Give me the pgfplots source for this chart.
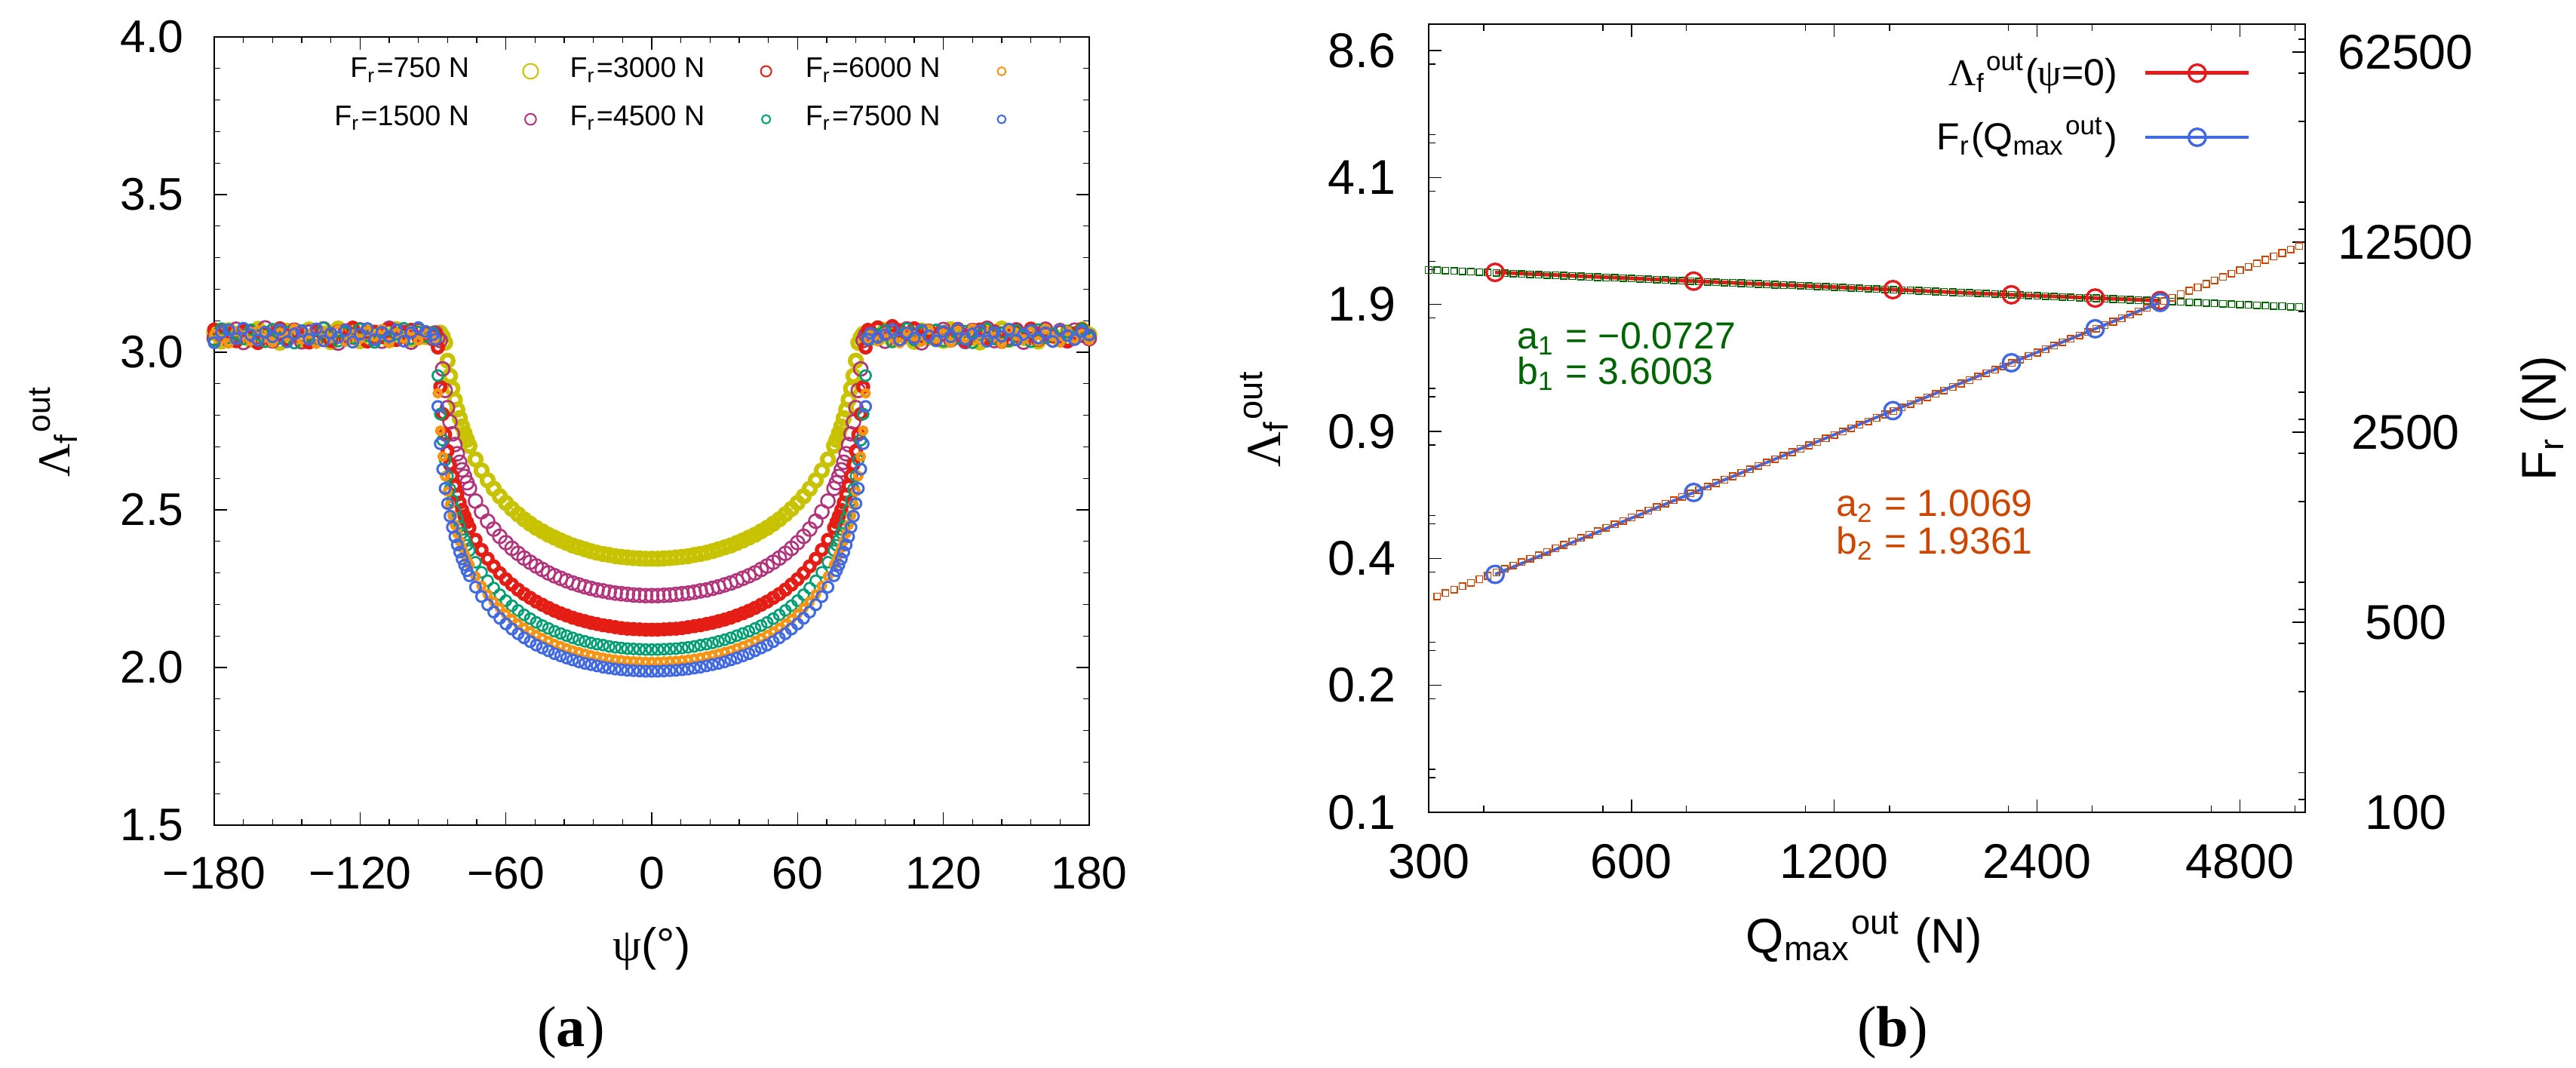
\documentclass[border=0pt]{standalone}
\usepackage{fontspec}
\setmainfont{Liberation Sans}
\newfontfamily\symf{Liberation Serif}
\usepackage{amsmath}
\usepackage{pgfplots}
\usepackage{pgfplotstable}
\pgfplotsset{compat=1.18}

\definecolor{cY}{RGB}{200,195,0}
\definecolor{cP}{RGB}{178,52,122}
\definecolor{cR}{RGB}{228,30,20}
\definecolor{cG}{RGB}{0,158,115}
\definecolor{cO}{RGB}{247,148,20}
\definecolor{cB}{RGB}{65,105,225}
\definecolor{fitG}{RGB}{0,100,0}
\definecolor{fitO}{RGB}{204,70,0}
\definecolor{lR}{RGB}{228,26,28}

\pgfplotstableread{
psi Y P R G O B
-180 3.061 3.044 3.072 3.037 3.057 3.030
-177 3.034 3.066 3.049 3.075 3.041 3.063
-174 3.070 3.039 3.058 3.046 3.028 3.071
-171 3.047 3.073 3.035 3.060 3.066 3.043
-168 3.058 3.031 3.068 3.042 3.053 3.076
-165 3.039 3.062 3.045 3.071 3.036 3.055
-162 3.074 3.050 3.029 3.056 3.069 3.038
-159 3.043 3.077 3.061 3.033 3.047 3.064
-156 3.065 3.036 3.052 3.073 3.031 3.049
-153 3.030 3.059 3.076 3.044 3.062 3.072
-150 3.068 3.045 3.038 3.064 3.050 3.033
-147 3.051 3.070 3.063 3.029 3.075 3.058
-144 3.037 3.033 3.047 3.069 3.040 3.067
-141 3.072 3.064 3.031 3.052 3.058 3.041
-138 3.046 3.041 3.070 3.038 3.027 3.074
-135 3.060 3.074 3.054 3.077 3.063 3.036
-132 3.032 3.052 3.036 3.048 3.045 3.060
-129 3.075 3.029 3.066 3.035 3.071 3.047
-126 3.049 3.067 3.043 3.062 3.034 3.069
-123 3.063 3.048 3.078 3.045 3.056 3.032
-120 3.035 3.071 3.050 3.074 3.042 3.057
-117 3.069 3.038 3.034 3.053 3.067 3.075
-114 3.044 3.060 3.065 3.031 3.049 3.040
-111 3.057 3.035 3.048 3.068 3.073 3.063
-108 3.038 3.076 3.073 3.040 3.030 3.050
-105 3.073 3.047 3.039 3.058 3.061 3.071
-102 3.052 3.063 3.059 3.076 3.044 3.035
-99 3.041 3.032 3.071 3.043 3.068 3.062
-96 3.066 3.069 3.046 3.064 3.037 3.078
-93 3.048 3.055 3.062 3.050 3.059 3.066
-90 3.059 3.043 3.051 3.061 3.048 3.056
-89 3.048 3.061 3.057 3.044 3.040 3.041
-88 3.055 3.046 3.015 2.926 2.870 2.828
-87 3.062 3.037 2.890 2.804 2.751 2.710
-86 3.050 2.947 2.804 2.721 2.669 2.629
-85 3.030 2.879 2.739 2.658 2.607 2.568
-84 2.973 2.824 2.687 2.607 2.558 2.520
-83 2.925 2.779 2.644 2.566 2.517 2.480
-82 2.885 2.741 2.608 2.530 2.482 2.445
-81 2.849 2.707 2.576 2.499 2.452 2.415
-80 2.818 2.678 2.548 2.472 2.425 2.389
-79 2.791 2.651 2.523 2.448 2.401 2.366
-78 2.765 2.627 2.500 2.426 2.380 2.344
-77 2.743 2.606 2.480 2.406 2.360 2.325
-76 2.722 2.586 2.461 2.388 2.342 2.307
-75 2.703 2.568 2.443 2.371 2.326 2.291
-72.5 2.660 2.528 2.405 2.334 2.289 2.255
-70 2.625 2.494 2.373 2.302 2.259 2.225
-67.5 2.594 2.464 2.345 2.275 2.232 2.199
-65 2.567 2.439 2.321 2.252 2.209 2.176
-62.5 2.543 2.416 2.299 2.231 2.189 2.156
-60 2.522 2.396 2.280 2.212 2.170 2.138
-57.5 2.503 2.378 2.263 2.196 2.154 2.122
-55 2.486 2.362 2.247 2.181 2.139 2.107
-52.5 2.470 2.347 2.233 2.167 2.126 2.094
-50 2.456 2.334 2.221 2.155 2.114 2.082
-47.5 2.443 2.322 2.209 2.143 2.103 2.071
-45 2.432 2.311 2.199 2.133 2.093 2.062
-42.5 2.421 2.300 2.189 2.124 2.084 2.053
-40 2.412 2.291 2.180 2.115 2.075 2.044
-37.5 2.403 2.283 2.172 2.108 2.068 2.037
-35 2.395 2.275 2.165 2.101 2.061 2.030
-32.5 2.387 2.268 2.158 2.094 2.054 2.024
-30 2.381 2.262 2.152 2.088 2.049 2.018
-27.5 2.375 2.256 2.147 2.083 2.044 2.013
-25 2.369 2.251 2.142 2.078 2.039 2.009
-22.5 2.364 2.246 2.138 2.074 2.035 2.005
-20 2.360 2.243 2.134 2.071 2.031 2.001
-17.5 2.357 2.239 2.131 2.067 2.028 1.998
-15 2.353 2.236 2.128 2.064 2.025 1.995
-12.5 2.351 2.234 2.125 2.062 2.023 1.993
-10 2.349 2.232 2.123 2.060 2.021 1.991
-7.5 2.347 2.230 2.122 2.059 2.020 1.990
-5 2.346 2.229 2.121 2.058 2.019 1.989
-2.5 2.345 2.228 2.120 2.057 2.018 1.988
0 2.345 2.228 2.120 2.057 2.018 1.988
2.5 2.345 2.228 2.120 2.057 2.018 1.988
5 2.346 2.229 2.121 2.058 2.019 1.989
7.5 2.347 2.230 2.122 2.059 2.020 1.990
10 2.349 2.232 2.123 2.060 2.021 1.991
12.5 2.351 2.234 2.125 2.062 2.023 1.993
15 2.353 2.236 2.128 2.064 2.025 1.995
17.5 2.357 2.239 2.131 2.067 2.028 1.998
20 2.360 2.243 2.134 2.071 2.031 2.001
22.5 2.364 2.246 2.138 2.074 2.035 2.005
25 2.369 2.251 2.142 2.078 2.039 2.009
27.5 2.375 2.256 2.147 2.083 2.044 2.013
30 2.381 2.262 2.152 2.088 2.049 2.018
32.5 2.387 2.268 2.158 2.094 2.054 2.024
35 2.395 2.275 2.165 2.101 2.061 2.030
37.5 2.403 2.283 2.172 2.108 2.068 2.037
40 2.412 2.291 2.180 2.115 2.075 2.044
42.5 2.421 2.300 2.189 2.124 2.084 2.053
45 2.432 2.311 2.199 2.133 2.093 2.062
47.5 2.443 2.322 2.209 2.143 2.103 2.071
50 2.456 2.334 2.221 2.155 2.114 2.082
52.5 2.470 2.347 2.233 2.167 2.126 2.094
55 2.486 2.362 2.247 2.181 2.139 2.107
57.5 2.503 2.378 2.263 2.196 2.154 2.122
60 2.522 2.396 2.280 2.212 2.170 2.138
62.5 2.543 2.416 2.299 2.231 2.189 2.156
65 2.567 2.439 2.321 2.252 2.209 2.176
67.5 2.594 2.464 2.345 2.275 2.232 2.199
70 2.625 2.494 2.373 2.302 2.259 2.225
72.5 2.660 2.528 2.405 2.334 2.289 2.255
75 2.703 2.568 2.443 2.371 2.326 2.291
76 2.722 2.586 2.461 2.388 2.342 2.307
77 2.743 2.606 2.480 2.406 2.360 2.325
78 2.765 2.627 2.500 2.426 2.380 2.344
79 2.791 2.651 2.523 2.448 2.401 2.366
80 2.818 2.678 2.548 2.472 2.425 2.389
81 2.849 2.707 2.576 2.499 2.452 2.415
82 2.885 2.741 2.608 2.530 2.482 2.445
83 2.925 2.779 2.644 2.566 2.517 2.480
84 2.973 2.824 2.687 2.607 2.558 2.520
85 3.030 2.879 2.739 2.658 2.607 2.568
86 3.047 2.947 2.804 2.721 2.669 2.629
87 3.058 3.037 2.890 2.804 2.751 2.710
88 3.044 3.055 3.015 2.926 2.870 2.828
89 3.052 3.058 3.071 3.049 3.040 3.041
90 3.057 3.049 3.066 3.041 3.054 3.060
93 3.044 3.068 3.079 3.057 3.036 3.047
96 3.071 3.035 3.061 3.069 3.062 3.055
99 3.038 3.060 3.083 3.033 3.047 3.072
102 3.064 3.042 3.070 3.052 3.029 3.039
105 3.050 3.074 3.058 3.075 3.066 3.061
108 3.033 3.053 3.076 3.039 3.051 3.044
111 3.069 3.030 3.046 3.063 3.034 3.070
114 3.046 3.066 3.068 3.047 3.072 3.052
117 3.059 3.047 3.040 3.071 3.043 3.036
120 3.036 3.072 3.063 3.035 3.059 3.066
123 3.073 3.039 3.052 3.058 3.031 3.049
126 3.052 3.061 3.074 3.044 3.068 3.074
129 3.041 3.034 3.037 3.067 3.046 3.041
132 3.066 3.069 3.059 3.030 3.075 3.058
135 3.031 3.051 3.072 3.055 3.038 3.068
138 3.062 3.076 3.044 3.074 3.061 3.035
141 3.048 3.037 3.066 3.042 3.049 3.063
144 3.075 3.058 3.033 3.061 3.028 3.051
147 3.039 3.045 3.057 3.036 3.070 3.073
150 3.058 3.071 3.069 3.069 3.053 3.039
153 3.045 3.032 3.048 3.050 3.041 3.057
156 3.067 3.064 3.075 3.033 3.064 3.069
159 3.034 3.050 3.039 3.072 3.035 3.045
162 3.070 3.073 3.062 3.046 3.073 3.062
165 3.053 3.040 3.050 3.059 3.050 3.034
168 3.040 3.063 3.071 3.038 3.032 3.071
171 3.063 3.036 3.036 3.066 3.067 3.053
174 3.047 3.070 3.060 3.049 3.044 3.040
177 3.072 3.054 3.073 3.073 3.058 3.066
180 3.056 3.043 3.052 3.045 3.039 3.055
}\tabA

\pgfplotstableread{
Q L F
300.0 2.3783 604.1
308.8 2.3733 621.9
317.8 2.3683 640.3
327.2 2.3634 659.2
336.7 2.3584 678.6
346.6 2.3534 698.6
356.8 2.3485 719.3
367.2 2.3436 740.5
378.0 2.3386 762.3
389.1 2.3337 784.8
400.5 2.3289 808.0
412.2 2.3240 831.8
424.3 2.3191 856.4
436.7 2.3143 881.6
449.5 2.3094 907.7
462.7 2.3046 934.4
476.2 2.2997 962.0
490.2 2.2949 990.4
504.5 2.2901 1019.6
519.3 2.2853 1049.7
534.5 2.2805 1080.7
550.2 2.2757 1112.6
566.3 2.2709 1145.4
582.9 2.2662 1179.2
600.0 2.2614 1214.0
617.6 2.2567 1249.8
635.7 2.2519 1286.7
654.3 2.2472 1324.7
673.5 2.2425 1363.8
693.2 2.2378 1404.0
713.5 2.2331 1445.4
734.4 2.2284 1488.1
756.0 2.2238 1532.0
778.1 2.2191 1577.2
800.9 2.2144 1623.7
824.4 2.2098 1671.6
848.5 2.2051 1721.0
873.4 2.2005 1771.7
899.0 2.1959 1824.0
925.3 2.1913 1877.8
952.4 2.1867 1933.3
980.3 2.1821 1990.3
1009.1 2.1776 2049.0
1038.6 2.1730 2109.5
1069.1 2.1684 2171.7
1100.4 2.1639 2235.8
1132.6 2.1593 2301.8
1165.8 2.1548 2369.7
1200.0 2.1503 2439.7
1235.2 2.1458 2511.6
1271.4 2.1413 2585.8
1308.6 2.1368 2662.1
1347.0 2.1323 2740.6
1386.4 2.1278 2821.5
1427.0 2.1234 2904.8
1468.9 2.1189 2990.5
1511.9 2.1145 3078.7
1556.2 2.1100 3169.5
1601.8 2.1056 3263.1
1648.7 2.1012 3359.4
1697.1 2.0968 3458.5
1746.8 2.0924 3560.5
1798.0 2.0880 3665.6
1850.7 2.0836 3773.8
1904.9 2.0792 3885.1
1960.7 2.0749 3999.7
2018.2 2.0705 4117.8
2077.3 2.0662 4239.3
2138.2 2.0619 4364.4
2200.8 2.0575 4493.1
2265.3 2.0532 4625.7
2331.7 2.0489 4762.2
2400.0 2.0446 4902.8
2470.3 2.0403 5047.5
2542.7 2.0360 5196.4
2617.2 2.0318 5349.7
2693.9 2.0275 5507.6
2772.8 2.0232 5670.1
2854.1 2.0190 5837.4
2937.7 2.0148 6009.7
3023.8 2.0105 6187.0
3112.4 2.0063 6369.6
3203.6 2.0021 6557.5
3297.5 1.9979 6751.0
3394.1 1.9937 6950.2
3493.6 1.9895 7155.3
3595.9 1.9854 7366.4
3701.3 1.9812 7583.8
3809.8 1.9770 7807.5
3921.4 1.9729 8037.9
4036.3 1.9688 8275.1
4154.6 1.9646 8519.3
4276.3 1.9605 8770.7
4401.6 1.9564 9029.5
4530.6 1.9523 9295.9
4663.4 1.9482 9570.2
4800.0 1.9441 9852.7
4940.6 1.9400 10143.4
5085.4 1.9360 10442.7
5234.4 1.9319 10750.8
5387.8 1.9279 11068.1
5545.7 1.9238 11394.6
5708.2 1.9198 11730.9
5875.5 1.9158 12077.0
}\tabFit

\pgfplotstableread{
Q L F
376.5 2.345 750
742 2.228 1500
1466 2.120 3000
2198 2.057 4500
2927 2.018 6000
3654 1.988 7500
}\tabPts

\begin{document}
\begin{tikzpicture}
\useasboundingbox (0,0) rectangle (512.25pt,212.25pt);

% ---------------- panel (a)
\begin{axis}[
  at={(42.6pt,48.15pt)}, anchor=south west,
  scale only axis, width=174pt, height=156.75pt,
  xmin=-180, xmax=180, ymin=1.5, ymax=4.0,
  xtick={-180,-120,-60,0,60,120,180},
  xticklabels={−180,−120,−60,0,60,120,180},
  ytick={1.5,2.0,2.5,3.0,3.5,4.0},
  yticklabels={1.5,2.0,2.5,3.0,3.5,4.0},
  minor x tick num=4, minor y tick num=4,
  tick align=inside,
  major tick length=2.55pt, minor tick length=1.2pt,
  tick style={black, line width=0.2pt},
  axis line style={line width=0.37pt},
  tick label style={font=\fontsize{9.1}{10}\selectfont, inner sep=0pt},
  xticklabel style={anchor=north, yshift=-6.15pt},
  yticklabel style={anchor=east, xshift=-5.85pt},
  xlabel={{\symf ψ}(°)},
  every axis x label/.style={at={(axis description cs:0.5,-0.1722)}, anchor=base, inner sep=0pt, font=\fontsize{9.1}{10}\selectfont},
  ylabel={{\symf Λ}$_{\text{f}}{}^{\text{out}}$},
  every axis y label/.style={at={(axis description cs:-0.1836,0.5)}, rotate=90, anchor=center, inner sep=0pt, font=\fontsize{9.1}{10}\selectfont},
  legend columns=3, legend plot pos=right, legend cell align=right,
  legend style={draw=none, fill=none, inner sep=0pt,
    at={(axis description cs:0.1306,0.926)}, anchor=west,
    font=\fontsize{5.65}{6.2}\selectfont, row sep=2.1pt,
    nodes={inner sep=1pt}},
  legend image code/.code={\path (-11pt,0pt) (6.65pt,0pt); \draw[#1] plot coordinates {(0pt,0pt)};},
]
\addlegendimage{mark=o, mark size=1.5pt, cY, mark options={line width=0.3pt}}
\addlegendentry{F$_{\text{r}}$=750 N}
\addlegendimage{mark=o, mark size=1.05pt, cR, mark options={line width=0.3pt}}
\addlegendentry{F$_{\text{r}}$=3000 N}
\addlegendimage{mark=o, mark size=0.82pt, cO, mark options={line width=0.3pt}}
\addlegendentry{F$_{\text{r}}$=6000 N}
\addlegendimage{mark=o, mark size=1.1pt, cP, mark options={line width=0.3pt}}
\addlegendentry{F$_{\text{r}}$=1500 N}
\addlegendimage{mark=o, mark size=0.85pt, cG, mark options={line width=0.3pt}}
\addlegendentry{F$_{\text{r}}$=4500 N}
\addlegendimage{mark=o, mark size=0.81pt, cB, mark options={line width=0.3pt}}
\addlegendentry{F$_{\text{r}}$=7500 N}

\addplot[only marks, mark=o, mark size=1.15pt, cY, mark options={line width=0.9pt}, forget plot] table[x=psi,y=Y]{\tabA};
\addplot[only marks, mark=o, mark size=1.35pt, cP, mark options={line width=0.4pt}, forget plot] table[x=psi,y=P]{\tabA};
\addplot[only marks, mark=o, mark size=1.0pt, cR, mark options={line width=0.8pt}, forget plot] table[x=psi,y=R]{\tabA};
\addplot[only marks, mark=o, mark size=1.05pt, cG, mark options={line width=0.4pt}, forget plot] table[x=psi,y=G]{\tabA};
\addplot[only marks, mark=o, mark size=0.7pt, cO, mark options={line width=0.7pt}, forget plot] table[x=psi,y=O]{\tabA};
\addplot[only marks, mark=o, mark size=1.05pt, cB, mark options={line width=0.45pt}, forget plot] table[x=psi,y=B]{\tabA};
\end{axis}

% ---------------- panel (b), left axis
\begin{axis}[
  at={(284.1pt,50.7pt)}, anchor=south west,
  scale only axis, width=174.3pt, height=156.75pt,
  xmode=log, xmin=300, xmax=6000,
  ymode=log, ymin=0.1, ymax=10,
  xtick={300,600,1200,2400,4800}, xticklabels={300,600,1200,2400,4800},
  minor xtick={362,544,724,1088,1449,2176,2897,4352,5795},
  ytick={0.1,0.21,0.441,0.9261,1.94481,4.084101,8.5766121},
  yticklabels={0.1,0.2,0.4,0.9,1.9,4.1,8.6},
  minor ytick={0.1225,0.1286,0.194,0.2572,0.27,0.4074,0.5401,0.5669,0.8554,1.1342,1.1905,1.7964,2.3818,2.5,3.7725,5.0018,5.2501,7.9222},
  ytick pos=left, xtick pos=both,
  tick align=inside,
  major tick length=2.6pt, minor tick length=1.35pt,
  tick style={black, line width=0.2pt},
  axis line style={line width=0.37pt},
  tick label style={font=\fontsize{9.7}{10.5}\selectfont, inner sep=0pt},
  xticklabel style={anchor=north, yshift=-6.15pt},
  yticklabel style={anchor=east, xshift=-6.3pt},
  xlabel={Q$_{\text{max}}{}^{\text{out}}$ (N)},
  every axis x label/.style={at={(axis description cs:0.497,-0.178)}, anchor=base, inner sep=0pt, font=\fontsize{9.7}{10.5}\selectfont},
  ylabel={{\symf Λ}$_{\text{f}}{}^{\text{out}}$},
  every axis y label/.style={at={(axis description cs:-0.1876,0.5)}, rotate=90, anchor=center, inner sep=0pt, font=\fontsize{9.7}{10.5}\selectfont},
]
\addplot[only marks, mark=square, mark size=0.65pt, fitG, mark options={line width=0.22pt}] table[x=Q,y=L]{\tabFit};
\addplot[lR, line width=0.75pt, mark=o, mark size=1.7pt, mark options={line width=0.5pt}] table[x=Q,y=L]{\tabPts};
\end{axis}

% ---------------- panel (b), right axis
\begin{axis}[
  at={(284.1pt,50.7pt)}, anchor=south west,
  scale only axis, width=174.3pt, height=156.75pt,
  xmode=log, xmin=300, xmax=6000,
  axis x line=none, axis y line*=right,
  ymode=log, ymin=100, ymax=79160,
  ytick={100,500,2500,12500,62500}, yticklabels={100,500,2500,12500,62500},
  minor ytick={111.5,140,278,418,557.5,701.5,1389,2091,2788,3508,6946,10456,13938,17538,34730,52280,69690},
  tick align=inside,
  major tick length=2.6pt, minor tick length=1.35pt,
  tick style={black, line width=0.2pt},
  axis line style={line width=0.37pt},
  tick label style={font=\fontsize{9.7}{10.5}\selectfont, inner sep=0pt},
  yticklabel style={anchor=center, xshift=19.95pt},
  ylabel={F$_{\text{r}}$ (N)},
  every axis y label/.style={at={(axis description cs:1.272,0.5)}, rotate=90, anchor=center, inner sep=0pt, font=\fontsize{9.7}{10.5}\selectfont},
  legend plot pos=right, legend cell align=right,
  legend style={draw=none, fill=none, inner sep=0pt,
    at={(axis description cs:0.9389,0.8971)}, anchor=east,
    font=\fontsize{7.5}{8}\selectfont, row sep=2.85pt,
    nodes={inner sep=1pt}},
  legend image code/.code={\path (-4.25pt,0pt); \draw[mark repeat=2,mark phase=2,#1] plot coordinates {(0pt,0pt) (10.3pt,0pt) (20.55pt,0pt)};},
]
\addlegendimage{lR, line width=0.75pt, mark=o, mark size=1.7pt, mark options={line width=0.5pt}}
\addlegendentry{{\symf Λ}$_{\text{f}}{}^{\text{out}}$({\symf ψ}=0)}
\addplot[only marks, mark=square, mark size=0.65pt, fitO, mark options={line width=0.22pt}, forget plot] table[x=Q,y=F, skip coords between index={0}{1}]{\tabFit};
\addplot[cB, line width=0.6pt, mark=o, mark size=1.7pt, mark options={line width=0.5pt}] table[x=Q,y=F]{\tabPts};
\addlegendentry{F$_{\text{r}}$(Q$_{\text{max}}{}^{\text{out}}$)}
\end{axis}

% fit annotations
\node[anchor=base west, inner sep=0pt, text=fitG, font=\fontsize{7.5}{8}\selectfont] at (301.5pt,142.95pt) {a$_{\text{1}}$ = −0.0727};
\node[anchor=base west, inner sep=0pt, text=fitG, font=\fontsize{7.5}{8}\selectfont] at (301.5pt,135.9pt) {b$_{\text{1}}$ = 3.6003};
\node[anchor=base west, inner sep=0pt, text=fitO, font=\fontsize{7.5}{8}\selectfont] at (364.95pt,109.65pt) {a$_{\text{2}}$ = 1.0069};
\node[anchor=base west, inner sep=0pt, text=fitO, font=\fontsize{7.5}{8}\selectfont] at (364.95pt,102.15pt) {b$_{\text{2}}$ = 1.9361};

% sub-figure labels
\node[anchor=base, inner sep=0pt, font=\symf\fontsize{11.5}{12}\selectfont] at (113.55pt,4.2pt) {(\textbf{a})};
\node[anchor=base, inner sep=0pt, font=\symf\fontsize{11.5}{12}\selectfont] at (376.35pt,4.2pt) {(\textbf{b})};
\end{tikzpicture}
\end{document}
